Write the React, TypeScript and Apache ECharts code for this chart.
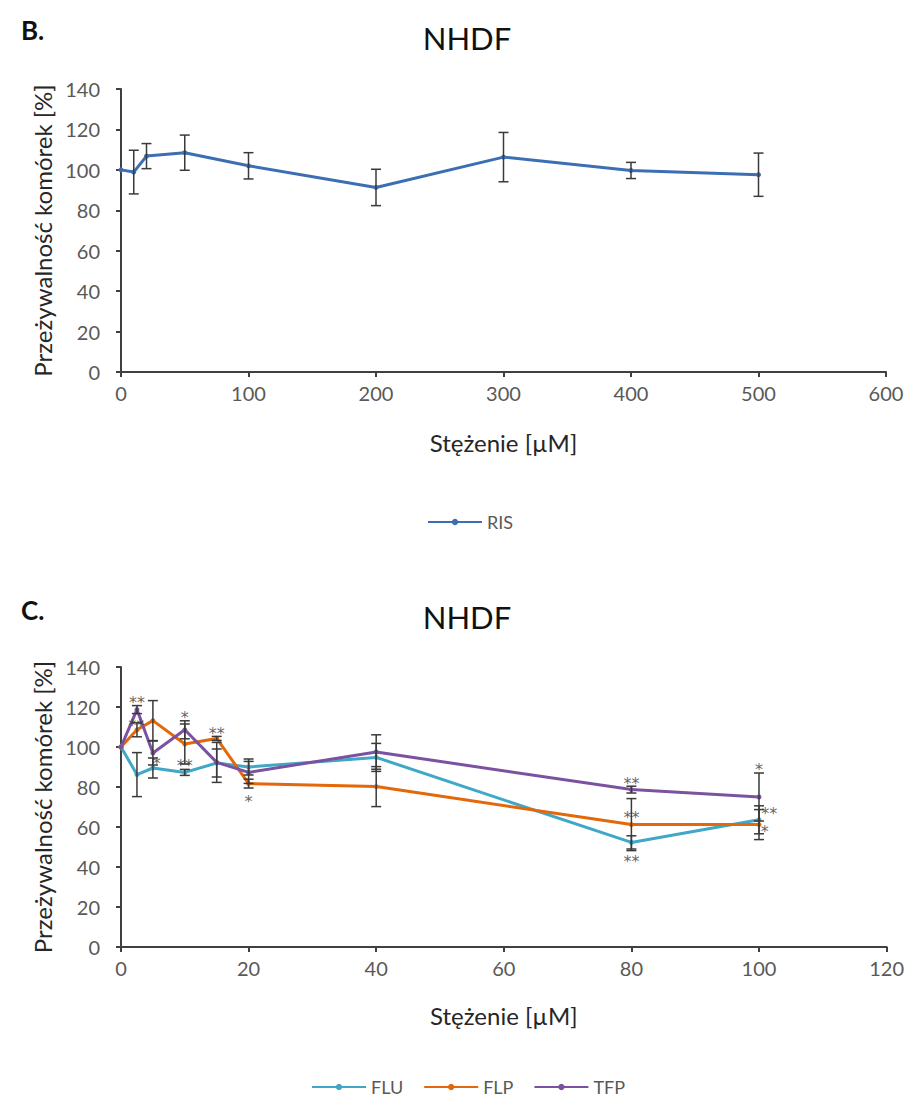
import React, { useEffect, useRef } from "react";
import * as echarts from "echarts";

// ---- Data: panel B (RIS) ----
const risX = [0, 10, 20, 50, 100, 200, 300, 400, 500];
const risY = [100, 98.9, 106.8, 108.5, 102, 91.3, 106.3, 99.7, 97.6];
const risErr = [0, 10.8, 6.2, 8.7, 6.5, 9, 12.2, 4, 10.7];

// ---- Data: panel C ----
const cX = [0, 2.5, 5, 10, 15, 20, 40, 80, 100];
const fluY = [100, 86.2, 89.5, 87.3, 92, 90, 94.8, 52.3, 63.6];
const fluErr = [0, 11, 5, 1.5, 7, 4, 7, 3.3, 7];
const flpY = [100, 108.6, 113.2, 101.5, 104.3, 81.7, 80.2, 61.2, 61.2];
const flpErr = [0, 3.5, 10, 10, 1, 2.2, 10, 13, 7.5];
const tfpY = [100, 118.7, 97, 108.6, 92.3, 87.3, 97.5, 78.7, 75];
const tfpErr = [0, 2, 6, 4.5, 10, 5.5, 8.6, 1.7, 12];

// significance marks: [x, y, text]
const stars: [number, number, string][] = [
  [2.5, 124.2, "**"],
  [2.4, 112.6, "**"],
  [5.6, 93.6, "*"],
  [10, 117, "*"],
  [10, 92.6, "**"],
  [15, 108.6, "**"],
  [20, 75, "*"],
  [80, 84, "**"],
  [80, 66.6, "**"],
  [80, 44.6, "**"],
  [100, 91, "*"],
  [101.6, 68.6, "**"],
  [100.9, 60, "*"],
];

const yTicksMax = 140;
const FONT = "Lato";
const AXIS = "#404040";
const TXT = "#595959";

const colors = { RIS: "#3C6EB4", FLU: "#41A7C7", FLP: "#E3680A", TFP: "#7B52A0" };

function errData(xs: number[], ys: number[], es: number[]) {
  return xs
    .map((x, i) => [x, ys[i] - es[i], ys[i] + es[i], es[i]])
    .filter((d) => d[3] > 0);
}

function errSeries(name: string, data: number[][], idx: number) {
  return {
    type: "custom",
    name,
    xAxisIndex: idx,
    yAxisIndex: idx,
    z: 5,
    encode: { x: 0, y: [1, 2] },
    data,
    renderItem: (_p: any, api: any) => {
      const x = api.value(0);
      const lo = api.value(1);
      const hi = api.value(2);
      const a = api.coord([x, hi]);
      const b = api.coord([x, lo]);
      const w = 5;
      const st = { stroke: "#3a3a3a", lineWidth: 1.5 };
      return {
        type: "group",
        children: [
          { type: "line", shape: { x1: a[0], y1: a[1], x2: b[0], y2: b[1] }, style: st },
          { type: "line", shape: { x1: a[0] - w, y1: a[1], x2: a[0] + w, y2: a[1] }, style: st },
          { type: "line", shape: { x1: b[0] - w, y1: b[1], x2: b[0] + w, y2: b[1] }, style: st },
        ],
      };
    },
  };
}

function lineSeries(name: string, xs: number[], ys: number[], idx: number, color: string) {
  return {
    type: "line",
    name,
    xAxisIndex: idx,
    yAxisIndex: idx,
    data: xs.map((x, i) => [x, ys[i]]),
    symbol: "circle",
    symbolSize: 5,
    z: 3,
    itemStyle: { color },
    lineStyle: { color, width: 3 },
  };
}

function xAxisCfg(idx: number, max: number, interval: number, gap: number) {
  return {
    type: "value",
    gridIndex: idx,
    min: 0,
    max,
    interval,
    name: "Stężenie [µM]",
    nameLocation: "middle",
    nameGap: gap,
    nameTextStyle: { fontFamily: FONT, fontSize: 24, color: "#262626" },
    axisLine: { show: true, onZero: false, lineStyle: { color: AXIS, width: 2 } },
    axisTick: { show: true, length: 5, lineStyle: { color: AXIS, width: 2 } },
    axisLabel: { fontFamily: FONT, fontSize: 20, color: TXT, margin: 11 },
    splitLine: { show: false },
  };
}

function yAxisCfg(idx: number) {
  return {
    type: "value",
    gridIndex: idx,
    min: 0,
    max: yTicksMax,
    interval: 20,
    name: "Przeżywalność komórek [%]",
    nameLocation: "middle",
    nameGap: 66,
    nameTextStyle: { fontFamily: FONT, fontSize: 24, color: "#262626" },
    axisLine: { show: true, lineStyle: { color: AXIS, width: 2 } },
    axisTick: { show: true, length: 5, lineStyle: { color: AXIS, width: 2 } },
    axisLabel: { fontFamily: FONT, fontSize: 20, color: TXT, margin: 21 },
    splitLine: { show: false },
  };
}

export default function App() {
  const ref = useRef<HTMLDivElement>(null);
  useEffect(() => {
    document.body.style.margin = "0";
    const chart = echarts.init(ref.current!, null, { renderer: "svg" });
    chart.setOption({
      animation: false,
      backgroundColor: "#ffffff",
      title: [
        { text: "B.", left: 16, top: 12, textStyle: { fontFamily: FONT, fontSize: 26, fontWeight: "bold", color: "#111" } },
        { text: "NHDF", left: 462, textAlign: "center", top: 17, textStyle: { fontFamily: FONT, fontSize: 31, fontWeight: "normal", color: "#111" } },
        { text: "C.", left: 16, top: 592, textStyle: { fontFamily: FONT, fontSize: 26, fontWeight: "bold", color: "#111" } },
        { text: "NHDF", left: 462, textAlign: "center", top: 596, textStyle: { fontFamily: FONT, fontSize: 31, fontWeight: "normal", color: "#111" } },
      ],
      legend: [
        {
          data: ["RIS"],
          left: 422,
          top: 508,
          itemWidth: 54,
          itemHeight: 8,
          textStyle: { fontFamily: FONT, fontSize: 18, lineHeight: 18, color: TXT },
        },
        {
          data: ["FLU", "FLP", "TFP"],
          left: 306,
          top: 1073,
          itemWidth: 54,
          itemHeight: 8,
          itemGap: 20,
          textStyle: { fontFamily: FONT, fontSize: 18, lineHeight: 18, color: TXT },
        },
      ],
      grid: [
        { left: 121, right: 21, top: 89, height: 283 },
        { left: 121, right: 16, top: 667, height: 280 },
      ],
      xAxis: [xAxisCfg(0, 600, 100, 58), xAxisCfg(1, 120, 20, 56)],
      yAxis: [yAxisCfg(0), yAxisCfg(1)],
      series: [
        lineSeries("RIS", risX, risY, 0, colors.RIS),
        errSeries("RIS-err", errData(risX, risY, risErr), 0),
        lineSeries("FLU", cX, fluY, 1, colors.FLU),
        lineSeries("FLP", cX, flpY, 1, colors.FLP),
        lineSeries("TFP", cX, tfpY, 1, colors.TFP),
        errSeries("FLU-err", errData(cX, fluY, fluErr), 1),
        errSeries("FLP-err", errData(cX, flpY, flpErr), 1),
        errSeries("TFP-err", errData(cX, tfpY, tfpErr), 1),
        {
          type: "scatter",
          name: "stars",
          xAxisIndex: 1,
          yAxisIndex: 1,
          symbolSize: 0,
          z: 6,
          data: stars,
          itemStyle: { color: "#3a3a3a" },
          label: {
            show: true,
            position: "inside",
            offset: [0, 4],
            formatter: (p: any) => p.value[2],
            fontFamily: "DejaVu Sans",
            fontSize: 16,
            color: "#3a3a3a",
          },
        },
      ],
    });
    return () => chart.dispose();
  }, []);
  return <div ref={ref} style={{ width: 907, height: 1099 }} />;
}
